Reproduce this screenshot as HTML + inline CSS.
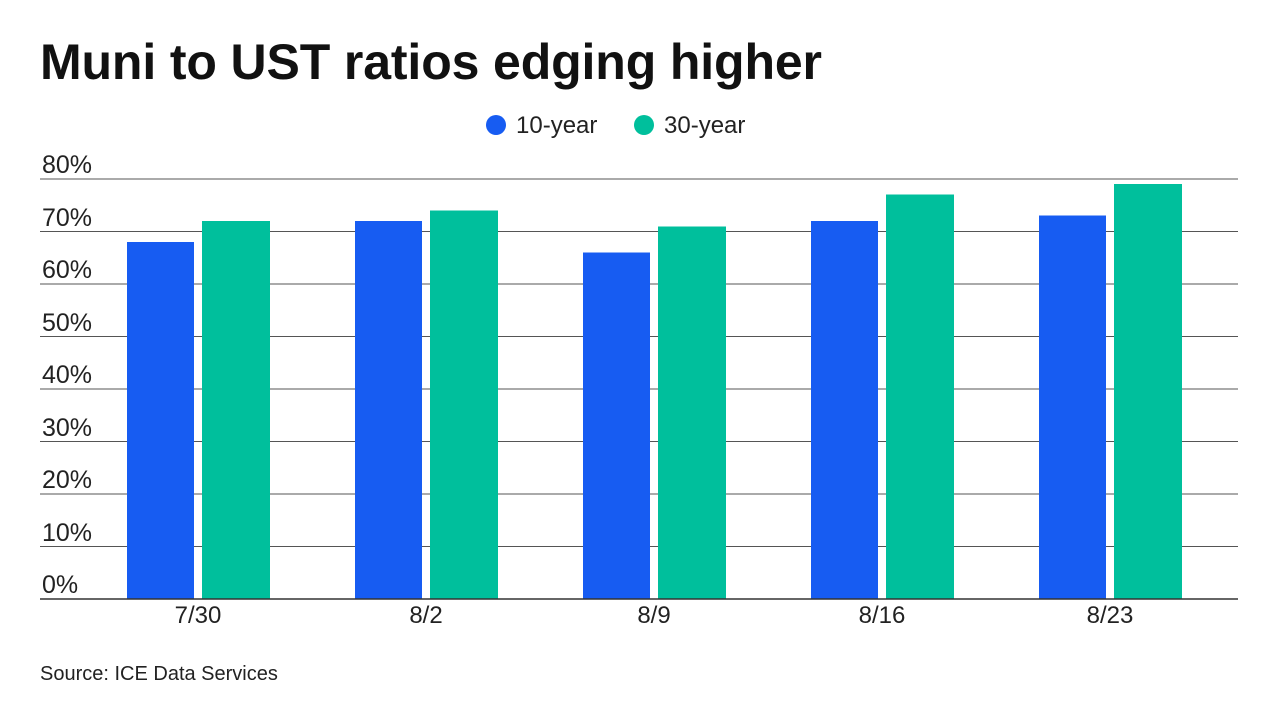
<!DOCTYPE html>
<html><head><meta charset="utf-8"><style>
html,body{margin:0;padding:0;background:#fff;}
body{width:1280px;height:720px;position:relative;overflow:hidden;font-family:"Liberation Sans",sans-serif;color:#111;}
</style></head><body>
<svg width="1280" height="720" xmlns="http://www.w3.org/2000/svg" style="position:absolute;left:0;top:0">
<text x="40" y="79" font-family="Liberation Sans, sans-serif" font-weight="bold" font-size="50" textLength="782" fill="#111">Muni to UST ratios edging higher</text>
<circle cx="496" cy="125" r="10" fill="#175cf2"/>
<text x="516" y="133" font-size="24" fill="#222">10-year</text>
<circle cx="644" cy="125" r="10" fill="#00bf9c"/>
<text x="664" y="133" font-size="24" fill="#222">30-year</text>
<g stroke="#555" stroke-width="1">
<line x1="40" x2="1238" y1="179" y2="179"/>
<line x1="40" x2="1238" y1="231.5" y2="231.5"/>
<line x1="40" x2="1238" y1="284" y2="284"/>
<line x1="40" x2="1238" y1="336.5" y2="336.5"/>
<line x1="40" x2="1238" y1="389" y2="389"/>
<line x1="40" x2="1238" y1="441.5" y2="441.5"/>
<line x1="40" x2="1238" y1="494" y2="494"/>
<line x1="40" x2="1238" y1="546.5" y2="546.5"/>
</g>
<g font-size="25" fill="#222">
<text x="42" y="173">80%</text>
<text x="42" y="226">70%</text>
<text x="42" y="278">60%</text>
<text x="42" y="331">50%</text>
<text x="42" y="383">40%</text>
<text x="42" y="436">30%</text>
<text x="42" y="488">20%</text>
<text x="42" y="541">10%</text>
<text x="42" y="593">0%</text>
</g>
<g fill="#175cf2">
<rect x="127" y="242" width="67" height="357"/>
<rect x="355" y="221" width="67" height="378"/>
<rect x="583" y="252.5" width="67" height="346.5"/>
<rect x="811" y="221" width="67" height="378"/>
<rect x="1039" y="215.5" width="67" height="383.5"/>
</g>
<g fill="#00bf9c">
<rect x="202" y="221" width="68" height="378"/>
<rect x="430" y="210.5" width="68" height="388.5"/>
<rect x="658" y="226.5" width="68" height="372.5"/>
<rect x="886" y="194.5" width="68" height="404.5"/>
<rect x="1114" y="184" width="68" height="415"/>
</g>
<line x1="40" x2="1238" y1="599" y2="599" stroke="#333" stroke-width="1.5"/>
<g font-size="24" fill="#222" text-anchor="middle">
<text x="198" y="623">7/30</text>
<text x="426" y="623">8/2</text>
<text x="654" y="623">8/9</text>
<text x="882" y="623">8/16</text>
<text x="1110" y="623">8/23</text>
</g>
<text x="40" y="680" font-size="20" fill="#222">Source: ICE Data Services</text>
</svg>
</body></html>
